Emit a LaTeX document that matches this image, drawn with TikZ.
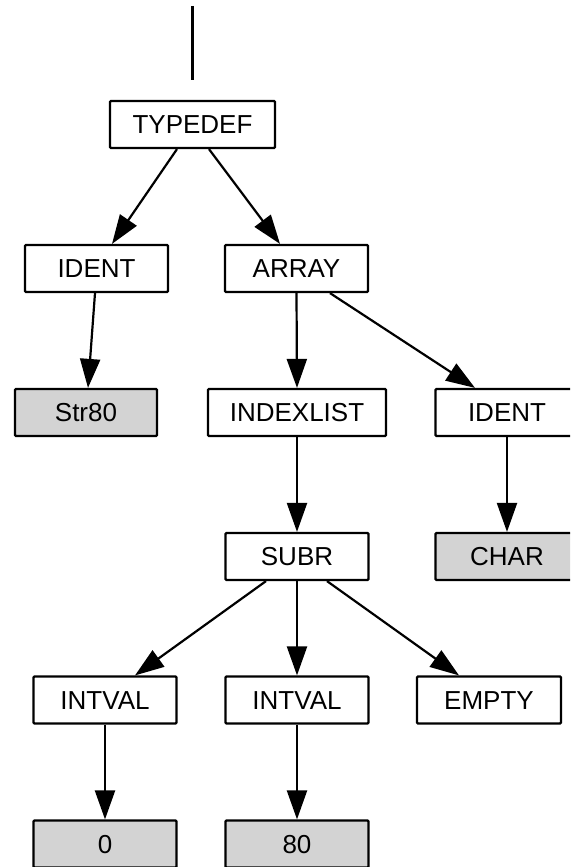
\documentclass[tikz,border=0pt]{standalone}
\usepackage{fontspec}
\setmainfont{Liberation Sans}
\usetikzlibrary{arrows.meta}
\definecolor{leafgray}{RGB}{211,211,211}
\tikzset{
  treenode/.style={draw=black, line width=2.2pt, rectangle, rounded corners=1pt,
    minimum height=47pt, minimum width=143pt, inner sep=0pt,
    font=\fontsize{26pt}{30pt}\selectfont, text height=18.5pt, text depth=0pt},
  leafnode/.style={treenode, fill=leafgray},
  edge/.style={line width=2.2pt, -{Triangle[length=29pt,width=20pt]}},
  stem/.style={line width=2.2pt}
}
\begin{document}
\begin{tikzpicture}[x=1pt, y=-1pt]
\useasboundingbox (0,0) rectangle (570,867);
\clip (0,0) rectangle (570,867);

% nodes of the syntax tree
\node[treenode, minimum width=165pt] (typedef) at (192.5,124.5) {TYPEDEF};
\node[treenode] (identa) at (96.5,268.5) {IDENT};
\node[treenode] (array) at (296.5,268.5) {ARRAY};
\node[leafnode, minimum width=142pt] (str) at (86,412.5) {Str80};
\node[treenode, minimum width=178pt] (indexlist) at (297,412.5) {INDEXLIST};
\node[treenode] (identb) at (507,412.5) {IDENT};
\node[treenode] (subr) at (297,556.5) {SUBR};
\node[leafnode] (char) at (507,556.5) {CHAR};
\node[treenode] (intvala) at (105,700) {INTVAL};
\node[treenode] (intvalb) at (297,700) {INTVAL};
\node[treenode, minimum width=144pt] (empty) at (489,700) {EMPTY};
\node[leafnode] (zero) at (105,844) {0};
\node[leafnode] (eighty) at (297,844) {80};

% incoming stem above the root
\coordinate (stemtop) at ([yshift=94pt]typedef.north);
\coordinate (stembot) at ([yshift=20pt]typedef.north);
\draw[stem] (stemtop) -- (stembot);

% edges
\draw[edge] ([xshift=-15.5pt]typedef.south) -- ([xshift=15.5pt]identa.north);
\draw[edge] ([xshift=16.5pt]typedef.south) -- ([xshift=-16.5pt]array.north);
\draw[edge] ([xshift=-1.5pt]identa.south) -- ([xshift=2pt]str.north);
\draw[edge] (array.south) -- (indexlist.north);
\draw[edge] ([xshift=33.5pt]array.south) -- ([xshift=-32pt]identb.north);
\draw[edge] (indexlist.south) -- (subr.north);
\draw[edge] (identb.south) -- (char.north);
\draw[edge] ([xshift=-31pt]subr.south) -- ([xshift=30pt]intvala.north);
\draw[edge] (subr.south) -- (intvalb.north);
\draw[edge] ([xshift=30pt]subr.south) -- ([xshift=-30pt]empty.north);
\draw[edge] (intvala.south) -- (zero.north);
\draw[edge] (intvalb.south) -- (eighty.north);
\end{tikzpicture}
\end{document}
